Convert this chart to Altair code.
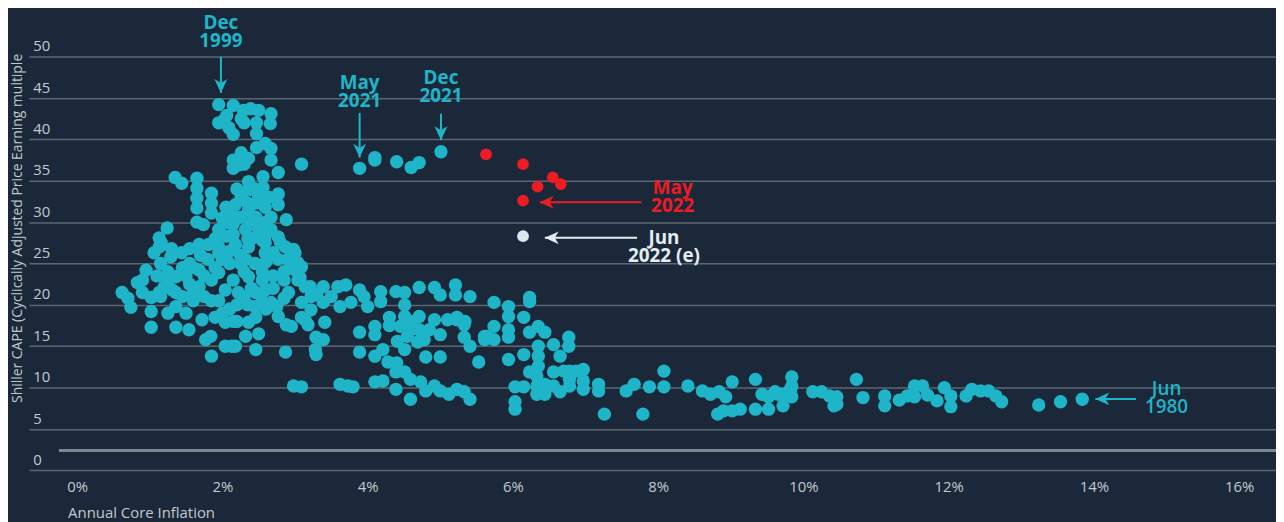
import altair as alt
import pandas as pd

# ---- historical monthly observations: annual core inflation (%) vs Shiller CAPE ----
hist_cpi = [
    1.95, 2.15, 2.39, 2.50, 2.67, 2.66, 2.47, 2.26, 2.06, 1.95, 2.09, 2.15, 2.47, 2.02, 2.29, 2.30,
    2.26, 2.15, 2.15, 2.36, 2.47, 2.59, 2.67, 2.67, 2.77, 3.09, 2.22, 2.30,
    1.35, 1.44, 1.65, 1.65, 1.65, 1.65, 1.65, 1.74, 1.85, 1.85, 1.85, 2.36, 2.56, 2.56, 2.77, 2.77,
    2.88, 2.26, 2.18, 2.13, 2.26, 2.36, 2.46, 2.46, 2.59, 2.67, 1.95, 2.09, 2.32, 2.50, 2.67, 2.77,
    1.24, 1.13, 1.13, 1.68, 1.81, 1.95, 2.18, 2.36, 2.59, 2.80, 2.98, 2.36, 2.05, 2.40, 2.60,
    1.16, 1.06, 0.95, 0.83, 0.62, 0.74, 1.02, 1.02, 1.02, 1.20, 1.36, 1.36, 1.36, 1.36, 1.29, 1.44,
    1.54, 1.68, 1.68, 1.72, 1.77, 1.85, 1.84, 1.95, 1.95, 2.04, 2.04, 2.04, 2.18, 2.32, 2.46, 2.46,
    2.25, 2.32, 2.36, 2.22, 2.46, 2.59, 2.67, 2.77, 2.87, 2.59, 2.77, 2.87, 3.00, 3.09, 3.04, 2.91,
    3.14, 3.22, 2.95, 3.14, 3.22, 3.28,
    1.55, 1.55, 1.60, 1.80, 1.85, 1.85, 2.10, 2.15, 2.10, 2.30, 2.40, 2.35, 2.55, 2.55, 2.70, 2.70,
    2.85, 2.85, 1.45, 1.25, 1.50, 1.90, 2.20, 2.60, 2.50, 1.70,
    1.13, 1.31, 2.13, 2.36, 2.98,
    1.60, 1.75, 1.90, 2.00, 2.10, 2.25, 2.45, 2.60, 2.70, 2.90, 2.95, 1.75, 1.95, 2.00, 2.20, 2.30,
    2.55, 2.75, 2.85, 2.45, 2.15, 1.60, 1.45, 1.50, 1.25, 1.10, 0.90, 1.15, 1.30, 1.55, 1.90, 2.15,
    2.35, 2.55, 2.15, 2.40, 2.60, 2.20, 2.45, 2.50, 2.65, 2.35, 2.05, 2.00, 0.70, 0.90, 1.15, 1.25,
    2.88, 3.00, 3.04, 3.07, 3.09, 3.09, 3.21, 3.18, 3.29, 3.29, 3.39, 3.39, 3.41, 3.39, 3.59, 3.70,
    3.62, 3.77, 3.89, 4.00, 3.89, 3.89, 4.18, 4.18, 4.39, 4.51, 4.51, 4.71, 4.92, 5.00, 5.21, 5.21,
    5.41, 4.10, 4.10, 4.30, 4.45, 4.51, 4.59, 4.71, 4.71, 4.92, 5.10, 5.23, 5.34, 5.33, 5.41, 5.53,
    5.64, 4.41, 4.51, 4.55, 4.69, 4.78, 5.00, 4.80, 5.00, 4.10, 4.21, 4.28, 4.39, 4.51, 4.59, 4.39,
    4.59, 4.73, 4.80, 4.92, 5.00, 5.12, 5.23, 5.33, 5.41, 4.10, 4.21, 3.09, 3.62, 3.73, 3.80,
    3.50, 3.30, 4.30, 4.60, 4.85, 4.40, 3.95,
    5.74, 5.94, 5.94, 6.15, 6.23, 6.23, 5.23, 5.33, 5.61, 5.61, 5.74, 5.74, 5.94, 5.94, 5.94, 6.15,
    6.23, 6.35, 6.44, 6.35, 6.35, 6.35, 6.56, 6.65, 6.77, 6.77, 6.23, 6.33, 6.33, 6.33, 6.44, 6.44,
    6.56, 6.56, 6.65, 6.70, 6.78, 6.87, 6.97, 6.97, 6.97, 6.78, 6.78, 6.03, 6.15, 6.03, 6.03, 7.18,
    7.18, 7.26, 7.56, 7.67,
    7.88, 8.08, 8.08, 7.79, 8.41, 8.61, 8.72, 8.84, 8.93, 9.02, 8.82, 8.90, 9.02, 9.13, 9.34, 9.34,
    9.43, 9.52, 9.52, 9.61, 9.71, 9.72, 9.82, 9.84, 9.84, 9.84, 10.13, 10.25, 10.36, 10.46, 10.46,
    9.65, 9.82, 10.42, 10.73, 10.82, 11.12, 11.12, 11.32, 11.43, 11.53, 11.64, 11.53, 11.71, 11.84,
    11.94, 12.03, 12.03, 12.24, 12.32, 12.44, 12.55, 12.65, 12.73, 13.24, 13.54, 13.84,
    3.89, 4.10, 4.10, 4.40, 4.60, 4.71, 5.01,
]
hist_cape = [
    44.2, 44.1, 43.7, 43.5, 43.1, 41.9, 42.0, 42.5, 42.9, 42.0, 41.4, 40.6, 40.7, 42.3, 43.5, 42.0,
    38.4, 37.5, 36.5, 37.7, 39.0, 39.5, 38.9, 37.5, 36.0, 37.0, 36.9, 37.0,
    35.4, 34.7, 35.3, 34.1, 32.9, 31.7, 30.0, 29.7, 33.5, 32.3, 31.1, 34.9, 35.5, 34.2, 33.4, 32.1,
    30.3, 33.0, 32.1, 31.1, 30.6, 33.9, 32.3, 30.6, 31.8, 30.6, 29.1, 29.9, 29.1, 29.1, 29.1, 28.2,
    29.3, 28.1, 27.0, 27.3, 27.3, 27.0, 27.3, 27.0, 27.5, 27.5, 26.7, 31.5, 28.3, 28.0, 28.5,
    27.5, 26.3, 24.2, 22.7, 21.5, 19.7, 20.9, 19.2, 17.3, 22.2, 23.4, 21.5, 19.8, 17.3, 25.8, 26.3,
    17.0, 24.2, 22.2, 18.2, 15.8, 13.8, 16.2, 26.3, 23.9, 21.8, 17.9, 15.0, 15.0, 16.2, 18.5, 14.6,
    26.0, 25.5, 23.4, 21.5, 21.5, 21.8, 20.3, 18.6, 14.3, 26.3, 25.5, 27.0, 26.3, 24.6, 23.0, 21.5,
    22.2, 21.0, 17.4, 18.2, 19.4, 14.6,
    25.0, 22.5, 20.5, 25.5, 23.0, 20.5, 25.0, 23.0, 19.5, 24.0, 22.0, 20.0, 24.0, 23.0, 23.5, 22.0,
    24.0, 23.0, 24.5, 24.0, 19.0, 18.5, 18.0, 19.5, 16.5, 26.0,
    21.5, 21.8, 15.0, 17.9, 10.2,
    24.5, 23.5, 24.5, 25.5, 26.5, 25.0, 25.0, 25.2, 26.3, 25.5, 24.5, 21.0, 20.5, 19.0, 20.0, 21.0,
    20.5, 19.8, 20.8, 19.8, 18.0, 21.5, 21.0, 23.5, 22.8, 23.5, 23.0, 25.0, 26.8, 26.8, 28.0, 28.5,
    28.0, 27.8, 29.8, 30.0, 30.0, 34.0, 34.0, 33.0, 33.0, 32.3, 31.8, 30.5, 20.8, 21.5, 21.0, 19.0,
    17.6, 24.2, 25.1, 23.3, 20.3, 18.5, 22.2, 17.6, 16.1, 14.0, 22.2, 20.3, 17.9, 15.8, 22.2, 22.4,
    19.8, 20.3, 21.8, 19.8, 16.7, 14.3, 21.6, 20.4, 21.6, 21.5, 20.0, 22.1, 22.1, 21.2, 22.4, 21.2,
    21.0, 17.4, 16.4, 18.5, 17.4, 18.6, 17.0, 18.6, 17.0, 18.2, 18.2, 18.5, 18.0, 16.1, 15.0, 13.1,
    16.2, 15.6, 14.6, 16.2, 15.5, 15.8, 16.4, 13.7, 13.7, 13.8, 14.6, 13.1, 11.9, 11.9, 11.0, 9.8,
    8.6, 10.7, 9.6, 10.2, 9.6, 9.2, 9.8, 9.5, 8.6, 10.7, 10.8, 10.1, 10.4, 10.2, 10.1,
    21.0, 21.2, 17.5, 18.0, 17.0, 13.0, 21.0,
    20.3, 19.8, 18.6, 18.5, 20.9, 20.4, 18.2, 17.6, 15.8, 16.2, 17.4, 15.8, 17.0, 16.1, 13.4, 14.0,
    16.7, 17.4, 16.7, 15.0, 13.8, 12.6, 15.2, 13.8, 16.1, 15.0, 11.9, 11.4, 10.2, 9.2, 10.4, 9.2,
    11.9, 10.2, 9.5, 12.0, 12.0, 12.0, 12.2, 10.8, 9.8, 11.0, 10.2, 10.1, 10.1, 8.3, 7.4, 10.4,
    9.6, 6.8, 9.6, 10.4,
    10.1, 12.0, 10.1, 6.8, 10.2, 9.6, 9.2, 9.5, 8.9, 10.7, 6.8, 7.2, 7.2, 7.4, 7.4, 11.0,
    9.2, 8.9, 7.4, 9.5, 9.2, 7.8, 9.5, 11.3, 10.2, 8.9, 9.5, 9.5, 9.0, 8.9, 8.0,
    9.2, 9.8, 7.8, 11.0, 8.8, 9.0, 7.8, 8.5, 9.0, 10.2, 10.2, 8.9, 9.1, 8.4,
    10.0, 9.0, 7.7, 9.0, 9.8, 9.6, 9.6, 9.0, 8.3, 7.9, 8.3, 8.6,
    36.5, 37.8, 37.5, 37.3, 36.6, 37.2, 38.5,
]

# 2022 observations (Jan-May) and June estimate
recent_cpi = [5.63, 6.14, 6.34, 6.55, 6.66, 6.14]
recent_cape = [38.2, 37.0, 34.3, 35.4, 34.6, 32.6]
est_cpi = [6.14]
est_cape = [28.3]

x_ticks = [0, 2, 4, 6, 8, 10, 12, 14, 16]
y_ticks = [0, 5, 10, 15, 20, 25, 30, 35, 40, 45, 50]

# annotation labels (position of the first line of each two-line label)
label_text = ["Dec\n1999", "May\n2021", "Dec\n2021", "May\n2022", "Jun\n2022 (e)", "Jun\n1980"]
label_x = [1.98, 3.89, 5.01, 8.20, 8.08, 15.0]
label_y = [54.1, 46.8, 47.4, 34.1, 28.1, 9.84]
label_col = ["#1fb5c9", "#1fb5c9", "#1fb5c9", "#ec1c24", "#e3ecf0", "#1fb5c9"]
label_bold = [True, True, True, True, True, False]

# arrows: tail (x, y) -> tip (x2, y2)
arrow_x = [1.98, 3.89, 5.01, 7.77, 7.71, 14.58]
arrow_y = [50.0, 43.2, 43.1, 32.4, 28.1, 8.64]
arrow_x2 = [1.98, 3.89, 5.01, 6.37, 6.44, 14.02]
arrow_y2 = [45.6, 37.8, 39.9, 32.4, 28.1, 8.64]
arrow_dir = ["down", "down", "down", "left", "left", "left"]
arrow_col = ["#1fb5c9", "#1fb5c9", "#1fb5c9", "#ec1c24", "#e3ecf0", "#1fb5c9"]

# baseline bar near zero
base_x = [-0.25]
base_x2 = [16.51]
base_y = [2.4]

BG = "#1a2839"
CYAN = "#1fb5c9"
FONT = "Open Sans"
XDOM = [-0.664, 16.507]
YDOM = [0, 50]

hist = pd.DataFrame({"cpi": hist_cpi, "cape": hist_cape})
recent = pd.DataFrame({"cpi": recent_cpi, "cape": recent_cape})
est = pd.DataFrame({"cpi": est_cpi, "cape": est_cape})
labels = pd.DataFrame({"x": label_x, "y": label_y, "t": label_text, "c": label_col, "b": label_bold})
arrows = pd.DataFrame({"x": arrow_x, "y": arrow_y, "x2": arrow_x2, "y2": arrow_y2,
                       "d": arrow_dir, "c": arrow_col})
base = pd.DataFrame({"x": base_x, "x2": base_x2, "y": base_y})

xs = alt.Scale(domain=XDOM, nice=False, zero=False)
ys = alt.Scale(domain=YDOM, nice=False, zero=False)

x_axis = alt.Axis(values=x_ticks, labelExpr="datum.value + '%'", grid=False, ticks=False,
                  domain=False, labelColor="#c3c8ce", labelFontSize=15, labelFont=FONT,
                  labelPadding=9, title="Annual Core Inflation", titleFont=FONT,
                  titleFontSize=15, titleFontWeight="normal", titleColor="#c3c8ce",
                  titleAnchor="start", titleAlign="left", titleX=39, titleY=47,
                  titleBaseline="alphabetic")
y_axis = alt.Axis(values=y_ticks, grid=True, gridColor="#5b6671", gridWidth=1.5, ticks=False,
                  domain=False, labelColor="#c3c8ce", labelFontSize=15, labelFont=FONT,
                  labelAlign="left", labelPadding=-4, labelOffset=-6, labelBaseline="alphabetic",
                  title="Shiller CAPE (Cyclically Adjusted Price Earning multiple",
                  titleFont=FONT, titleFontSize=14, titleFontWeight="normal",
                  titleColor="#c3c8ce", titleAngle=-90, titleAlign="left",
                  titleBaseline="middle", titleX=-11, titleY=348)

grid_layer = alt.Chart(hist).mark_point(opacity=0).encode(
    x=alt.X("cpi:Q", scale=xs, axis=x_axis),
    y=alt.Y("cape:Q", scale=ys, axis=y_axis),
)

base_layer = alt.Chart(base).mark_rule(color="#7d8791", strokeWidth=3).encode(
    x=alt.X("x:Q", scale=xs), x2="x2:Q", y=alt.Y("y:Q", scale=ys)
)

hist_layer = alt.Chart(hist).mark_circle(size=180, color=CYAN, opacity=1).encode(
    x=alt.X("cpi:Q", scale=xs), y=alt.Y("cape:Q", scale=ys)
)
recent_layer = alt.Chart(recent).mark_circle(size=140, color="#ec1c24", opacity=1).encode(
    x=alt.X("cpi:Q", scale=xs), y=alt.Y("cape:Q", scale=ys)
)
est_layer = alt.Chart(est).mark_circle(size=140, color="#dbe8ee", opacity=1).encode(
    x=alt.X("cpi:Q", scale=xs), y=alt.Y("cape:Q", scale=ys)
)

arrow_lines = alt.Chart(arrows).mark_rule(strokeWidth=2).encode(
    x=alt.X("x:Q", scale=xs), y=alt.Y("y:Q", scale=ys), x2="x2:Q", y2="y2:Q",
    color=alt.Color("c:N", scale=None),
)
DOWN = "M0,0L-1.3,-2.8L0,-2.0L1.3,-2.8Z"
LEFT = "M0,0L2.8,-1.3L2.0,0L2.8,1.3Z"
head_down = alt.Chart(arrows).transform_filter(alt.datum.d == "down").mark_point(
    shape=DOWN, size=100, filled=True, opacity=1, strokeWidth=0).encode(
    x=alt.X("x2:Q", scale=xs), y=alt.Y("y2:Q", scale=ys), color=alt.Color("c:N", scale=None))
head_left = alt.Chart(arrows).transform_filter(alt.datum.d == "left").mark_point(
    shape=LEFT, size=100, filled=True, opacity=1, strokeWidth=0).encode(
    x=alt.X("x2:Q", scale=xs), y=alt.Y("y2:Q", scale=ys), color=alt.Color("c:N", scale=None))

text_bold = alt.Chart(labels).transform_filter(alt.datum.b).mark_text(
    font=FONT, fontSize=19, fontWeight="bold", align="center", baseline="middle",
    lineBreak="\n", lineHeight=18).encode(
    x=alt.X("x:Q", scale=xs), y=alt.Y("y:Q", scale=ys), text="t:N",
    color=alt.Color("c:N", scale=None),
)
text_plain = alt.Chart(labels).transform_filter(~alt.datum.b).mark_text(
    font=FONT, fontSize=19, fontWeight=600, align="center", baseline="middle",
    lineBreak="\n", lineHeight=18).encode(
    x=alt.X("x:Q", scale=xs), y=alt.Y("y:Q", scale=ys), text="t:N",
    color=alt.Color("c:N", scale=None),
)

chart = alt.layer(
    grid_layer, base_layer, hist_layer, recent_layer, est_layer,
    arrow_lines, head_down, head_left, text_bold, text_plain,
).properties(
    width=1255, height=416.4,
    autosize=alt.AutoSizeParams(type="none"),
    padding={"left": 21, "top": 47.3, "right": 0, "bottom": 50.3},
    background=BG,
).configure_view(stroke=None)

chart.save("out.html", embed_options={"renderer": "svg", "actions": False})
